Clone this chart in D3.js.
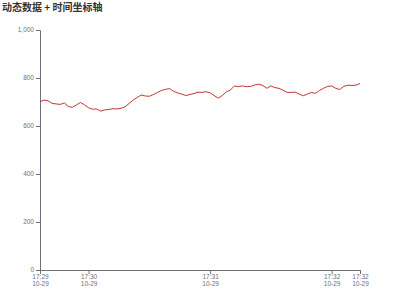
<!DOCTYPE html>
<html><head><meta charset="utf-8">
<script src="https://cdn.jsdelivr.net/npm/d3@7/dist/d3.min.js"></script>
<style>body{margin:0;background:#fff;}svg{display:block;font-family:"Noto Sans CJK SC","DejaVu Sans",sans-serif;}</style>
</head><body>
<svg id="c" width="400" height="300"></svg>
<script>
const title = "动态数据 + 时间坐标轴";
const startTime = "2024-10-29T17:29:36";
const stepSeconds = 2;
const values = [701,708,705,694,692,690,696,681,678,688,698,688,676,670,671,662,667,669,672,671,
674,680,694,708,719,729,725,724,731,740,748,753,756,744,738,733,727,731,735,741,
740,743,738,727,716,727,742,750,767,764,767,764,765,771,774,769,757,767,760,757,
749,740,740,741,733,726,733,740,736,748,757,765,767,757,752,765,770,769,770,777];
const yTicks = [0,200,400,600,800,1000];
const xTickTimes = ["2024-10-29T17:29:36","2024-10-29T17:30:00","2024-10-29T17:31:00","2024-10-29T17:32:00","2024-10-29T17:32:14"];

const t0 = new Date(startTime).getTime();
const data = values.map((v,i)=>({t:new Date(t0+i*stepSeconds*1000), v}));

const svg = d3.select("#c");
const m = {l:40, r:40, t:30, b:30};
const W=400,H=300;
const x = d3.scaleTime().domain(d3.extent(data,d=>d.t)).range([m.l, W-m.r]);
const y = d3.scaleLinear().domain([0,1000]).range([H-m.b, m.t]);
const axisColor="#6e7079";

svg.append("text").attr("x",2).attr("y",11).attr("font-size",10).attr("font-weight","bold").attr("fill","#333").text(title);

// y axis
const ya = svg.append("g").attr("transform",`translate(${m.l},0)`)
  .call(d3.axisLeft(y).tickValues(yTicks).tickFormat(d3.format(",")).tickSize(4).tickPadding(2));
ya.select(".domain").attr("stroke",axisColor);
ya.selectAll(".tick line").attr("stroke",axisColor);
ya.selectAll(".tick text").attr("fill",axisColor).attr("font-size",6.5).attr("dy","0.3em");

// x axis
const xa = svg.append("g").attr("transform",`translate(0,${H-m.b})`)
  .call(d3.axisBottom(x).tickValues(xTickTimes.map(s=>new Date(s))).tickSize(4).tickFormat(""));
xa.select(".domain").attr("stroke",axisColor);
xa.selectAll(".tick line").attr("stroke",axisColor);
const fH = d3.timeFormat("%H:%M"), fD = d3.timeFormat("%m-%d");
xa.selectAll(".tick").each(function(d){
  const t = d3.select(this).append("text").attr("fill",axisColor).attr("font-size",6.5).attr("text-anchor","middle");
  t.append("tspan").attr("x",0).attr("y",9).text(fH(d));
  t.append("tspan").attr("x",0).attr("y",15.5).text(fD(d));
});

svg.append("path").datum(data)
  .attr("fill","none").attr("stroke","#c23531").attr("stroke-width",1)
  .attr("d", d3.line().x(d=>x(d.t)).y(d=>y(d.v)));
</script>
</body></html>
